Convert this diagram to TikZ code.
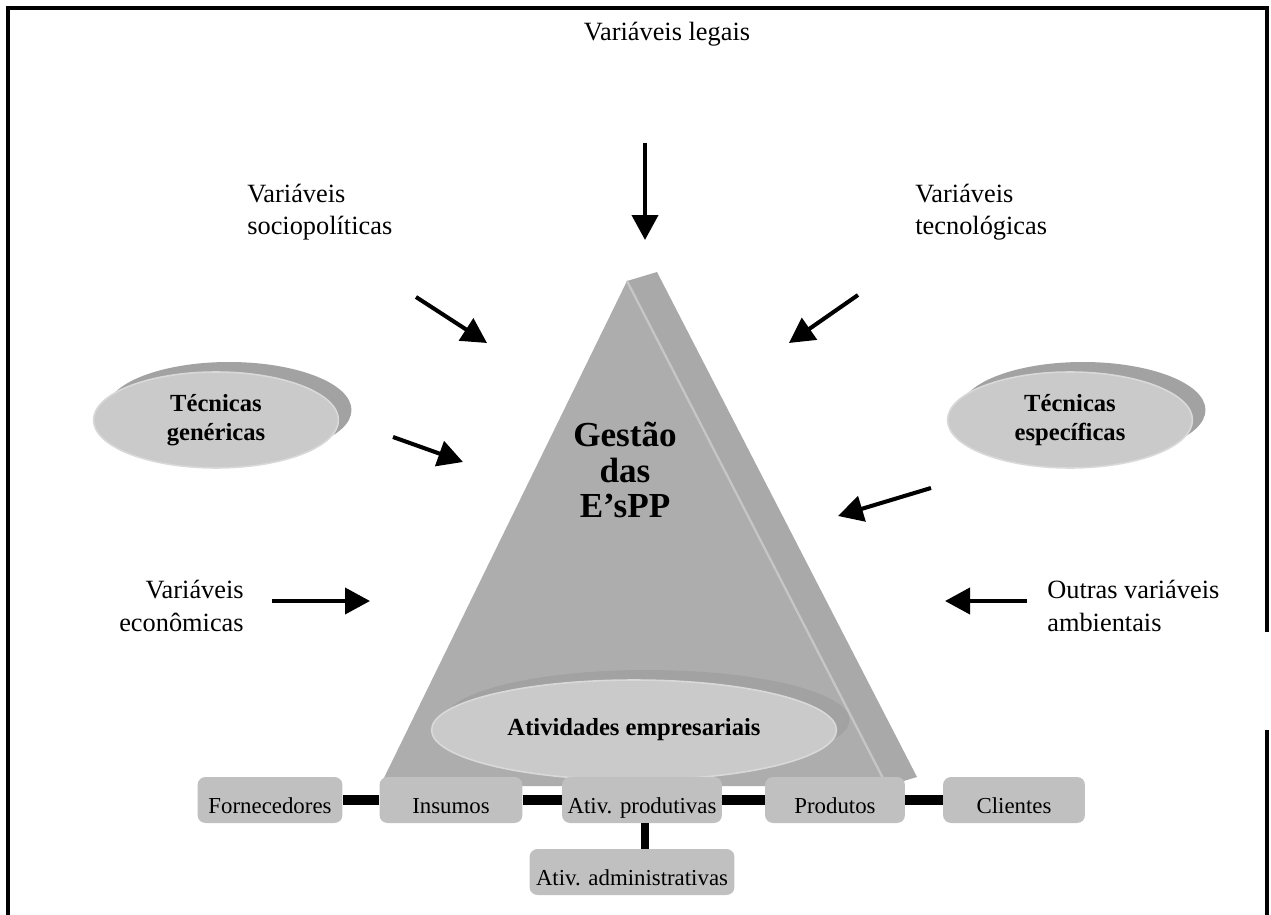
\documentclass[tikz,border=0pt]{standalone}
\usepackage{fontspec}
\setmainfont{Liberation Serif}
\usetikzlibrary{arrows.meta,shapes.geometric,shadows}
\definecolor{triface}{HTML}{ADADAD}
\definecolor{trilado}{HTML}{A9A9A9}
\definecolor{triaresta}{HTML}{C6C6C6}
\definecolor{discocor}{HTML}{CACACA}
\definecolor{discoborda}{HTML}{D9D9D9}
\definecolor{sombracor}{HTML}{A2A2A2}
\definecolor{caixacor}{HTML}{C0C0C0}

\begin{document}
\begin{tikzpicture}[x=0.02cm, y=-0.02cm, font=\fontsize{15}{18.5}\selectfont,
    rotulo/.style={inner sep=0pt, align=left},
    seta/.style={line width=2.3pt, -{Triangle[length=0.5cm, width=0.52cm]}},
    barra/.style={line width=5.6pt},
    caixa/.style={fill=caixacor, rounded corners=0.16cm, minimum height=0.92cm,
        inner sep=0pt, font=\fontsize{13}{15}\selectfont, text height=1.6em, text depth=0.1em},
    disco/.style={ellipse, fill=discocor, draw=discoborda, line width=0.9pt, inner sep=0pt,
        align=center, font=\fontsize{14}{16.5}\selectfont\bfseries,
        drop shadow={shadow xshift=0.26cm, shadow yshift=0.2cm, opacity=1, fill=sombracor}}]
    \useasboundingbox (0,0) rectangle (1271,915);
    % moldura (aberta embaixo, com falha a direita)
    \draw[line width=1.8pt] (8,915) -- (8,8) -- (1267,8) -- (1267,632);
    \draw[line width=1.8pt] (1267,730) -- (1267,915);
    % piramide da gestao
    \coordinate (topo) at (627,281);
    \coordinate (topo2) at (657,272);
    \coordinate (base-e) at (380,786);
    \coordinate (base-d) at (887,786);
    \coordinate (base-d2) at (917,777);
    \fill[trilado] (topo) -- (topo2) -- (base-d2) -- (base-d) -- cycle;
    \fill[triface] (topo) -- (base-e) -- (base-d) -- cycle;
    \draw[triaresta, line width=1.3pt] (topo) -- (base-d);
    \node[font=\fontsize{20}{20}\selectfont\bfseries, align=center] (gestao) at (625,470) {Gestão\\das\\E’sPP};
    % discos
    \node[disco, minimum width=4.9cm, minimum height=1.92cm] (gen) at (216,420) {Técnicas\\genéricas};
    \node[disco, minimum width=4.9cm, minimum height=1.92cm] (esp) at (1070,420) {Técnicas\\específicas};
    \node[disco, minimum width=8.1cm, minimum height=2.0cm] (ativ) at (634,730) {Atividades empresariais};
    % variaveis externas
    \node[rotulo] (legais) at (667,34) {Variáveis legais};
    \node[rotulo, anchor=west] (socio) at (247,212) {Variáveis\\sociopolíticas};
    \node[rotulo, anchor=west] (tecno) at (915,212) {Variáveis\\tecnológicas};
    \node[rotulo, anchor=east, align=right] (econ) at (244,606) {Variáveis\\econômicas};
    \node[rotulo, anchor=west] (outras) at (1047,606) {Outras variáveis\\ambientais};
    % setas
    \coordinate (legais-a) at (645,143);  \coordinate (legais-b) at (645,240);
    \coordinate (socio-a) at (416,297);   \coordinate (socio-b) at (487,343);
    \coordinate (tecno-a) at (858,295);   \coordinate (tecno-b) at (789,343);
    \coordinate (gen-a) at (393,437);     \coordinate (gen-b) at (463,462);
    \coordinate (esp-a) at (931,488);     \coordinate (esp-b) at (838,516);
    \coordinate (econ-a) at (272,601);    \coordinate (econ-b) at (370,601);
    \coordinate (outras-a) at (1027,601); \coordinate (outras-b) at (945,601);
    \foreach \s in {legais,socio,tecno,gen,esp,econ,outras}
        \draw[seta] (\s-a) -- (\s-b);
    % cadeia de atividades
    \node[caixa, minimum width=2.9cm] (forn) at (270,800) {Fornecedores};
    \node[caixa, minimum width=2.86cm] (ins) at (451,800) {Insumos};
    \node[caixa, minimum width=3.2cm] (prod) at (642,800) {Ativ. produtivas};
    \node[caixa, minimum width=2.8cm] (pdt) at (835,800) {Produtos};
    \node[caixa, minimum width=2.84cm] (cli) at (1014,800) {Clientes};
    \node[caixa, minimum width=4.1cm] (adm) at (632,872) {Ativ. administrativas};
    \draw[barra] (forn) -- (ins);
    \draw[barra] (ins) -- (prod);
    \draw[barra] (prod) -- (pdt);
    \draw[barra] (pdt) -- (cli);
    \draw[line width=4.5pt] (prod.south -| 645,0) -- (adm.north -| 645,0);
\end{tikzpicture}
\end{document}
